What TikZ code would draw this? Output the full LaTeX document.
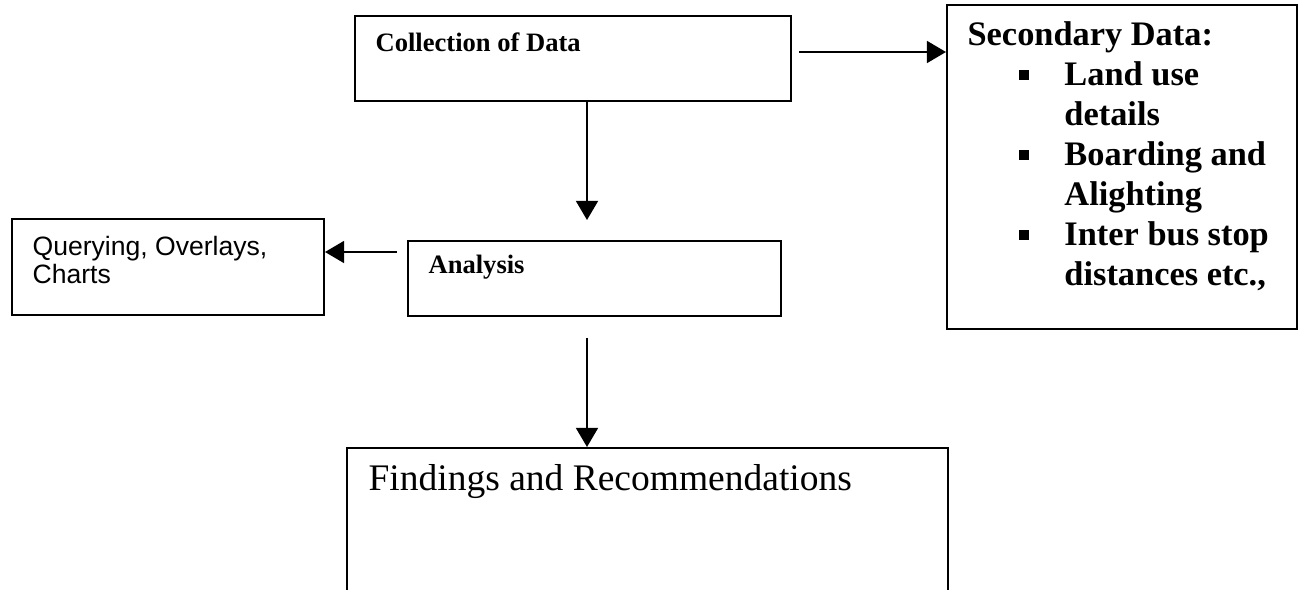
\documentclass[tikz,border=0pt]{standalone}
\usepackage{fontspec}
\setmainfont{Liberation Serif}
\newfontfamily\arialfont{Liberation Sans}
\usetikzlibrary{arrows.meta}
\newcommand{\sqbul}{\rule[1.9pt]{2.9pt}{3.2pt}}
\newcommand{\bitem}{\makebox[31pt][l]{\hspace{16.6pt}\sqbul}}
\newcommand{\bpad}{\hspace{31pt}}

\begin{document}
\begin{tikzpicture}[x=0.32pt,y=-0.32pt,>={Triangle[length=6.1pt,width=7pt]},
  box/.style={draw,rectangle,line width=0.65pt,inner sep=0pt},
  lbl/.style={anchor=base west,inner sep=0pt,align=left},
  arr/.style={->,line width=0.65pt}]
\useasboundingbox (0,0) rectangle (1298,590);
\clip (0,0) rectangle (1298,590);
% boxes
\node (coll) [box,minimum width=436*0.32pt,minimum height=85*0.32pt] at (573,58.5) {};
\node (sec) [box,minimum width=350*0.32pt,minimum height=324*0.32pt] at (1122,167) {};
\node (qry) [box,minimum width=312*0.32pt,minimum height=96*0.32pt] at (168,267) {};
\node (ana) [box,minimum width=373*0.32pt,minimum height=75*0.32pt] at (594.5,278.5) {};
\node (find) [box,minimum width=601*0.32pt,minimum height=172*0.32pt] at (647.5,534) {};
% texts (multi-line ones sit on their last baseline)
\node [lbl,font=\bfseries\fontsize{8.5}{10}\selectfont] at ([shift={(21,37)}]coll.north west) {Collection of Data};
\node [lbl,font=\bfseries\fontsize{11}{12.8}\selectfont] at ([shift={(21,282)}]sec.north west)
  {Secondary Data:\\\bitem Land use\\\bpad details\\\bitem Boarding and\\\bpad Alighting\\\bitem Inter bus stop\\\bpad distances etc.,};
\node [lbl,font=\arialfont\fontsize{8.5}{8.96}\selectfont] at ([shift={(21,66)}]qry.north west) {Querying, Overlays,\\Charts};
\node [lbl,font=\bfseries\fontsize{8.5}{10}\selectfont] at ([shift={(21,34)}]ana.north west) {Analysis};
\node [lbl,font=\fontsize{12}{14}\selectfont] at ([shift={(22,44)}]find.north west) {Findings and Recommendations};
% connectors
\coordinate (r1) at (799,52);
\coordinate (d1) at (587,220);
\coordinate (l1) at (397,252);
\coordinate (d2) at (587,338);
\draw[arr] (r1) -- (r1 -| sec.west);
\draw[arr] (d1 |- coll.south) -- (d1);
\draw[arr] (l1) -- (l1 -| qry.east);
\draw[arr] (d2) -- (d2 |- find.north);
\end{tikzpicture}
\end{document}
